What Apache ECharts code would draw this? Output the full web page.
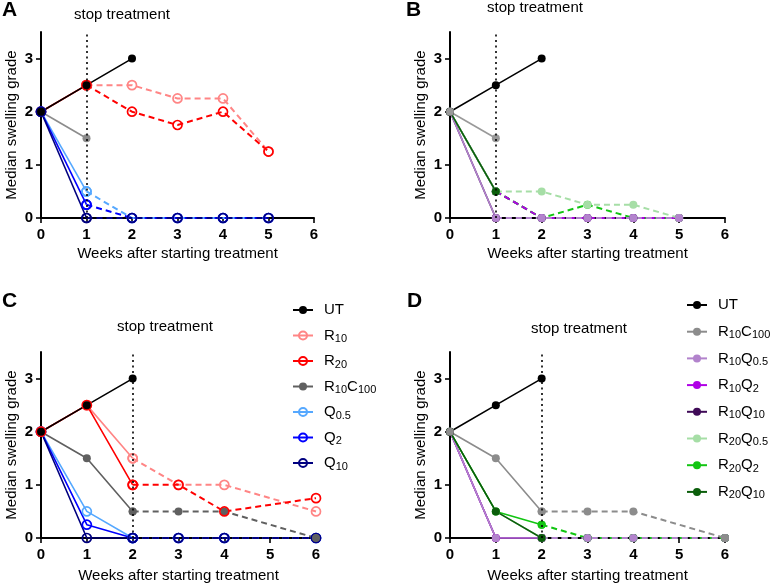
<!DOCTYPE html>
<html>
<head>
<meta charset="utf-8">
<script src="https://cdn.jsdelivr.net/npm/echarts@6/dist/echarts.min.js"></script>
<style>
html, body { margin: 0; padding: 0; background: #fff; }
#main { width: 771px; height: 584px; }
</style>
</head>
<body>
<div id="main"></div>
<script>
// 周数 (x 轴)
var weeks = [0, 1, 2, 3, 4, 5, 6];
var xTicks = [0, 1, 2, 3, 4, 5, 6];
var yTicks = [0, 1, 2, 3];
var stopWeek = [1, 1, 2, 2];

// A: 单药
var aUT = [2, 2.5, 3, null, null, null, null];
var aR10C100 = [2, 1.5, null, null, null, null, null];
var aR10 = [2, 2.5, 2.5, 2.25, 2.25, 1.25, null];
var aR20 = [2, 2.5, 2, 1.75, 2, 1.25, null];
var aQ05 = [2, 0.5, 0, 0, 0, 0, null];
var aQ2 = [2, 0.25, 0, 0, 0, 0, null];
var aQ10 = [2, 0, 0, 0, 0, 0, null];

// B: 联合用药
var bUT = [2, 2.5, 3, null, null, null, null];
var bR10C100 = [2, 1.5, null, null, null, null, null];
var bR10Q05 = [2, 0, 0, 0, 0, 0, null];
var bR10Q2 = [2, 0.5, 0, 0, 0, 0, null];
var bR10Q10 = [2, 0, 0, 0, 0, 0, null];
var bR20Q05 = [2, 0.5, 0.5, 0.25, 0.25, 0, null];
var bR20Q2 = [2, 0.5, 0, 0.25, 0, 0, null];
var bR20Q10 = [2, 0.5, 0, 0, 0, 0, null];

// C: 单药, 2周停药
var cUT = [2, 2.5, 3, null, null, null, null];
var cR10 = [2, 2.5, 1.5, 1, 1, null, 0.5];
var cR20 = [2, 2.5, 1, 1, 0.5, null, 0.75];
var cR10C100 = [2, 1.5, 0.5, 0.5, 0.5, null, 0];
var cQ05 = [2, 0.5, 0, 0, 0, null, 0];
var cQ2 = [2, 0.25, 0, 0, 0, null, 0];
var cQ10 = [2, 0, 0, 0, 0, null, 0];

// D: 联合用药, 2周停药
var dUT = [2, 2.5, 3, null, null, null, null];
var dR10C100 = [2, 1.5, 0.5, 0.5, 0.5, null, 0];
var dR10Q05 = [2, 0, 0, 0, 0, null, 0];
var dR10Q2 = [2, 0, 0, 0, 0, null, 0];
var dR10Q10 = [2, 0, 0, 0, 0, null, 0];
var dR20Q05 = [2, 0.5, 0, 0, 0, null, 0];
var dR20Q2 = [2, 0.5, 0.25, 0, 0, null, 0];
var dR20Q10 = [2, 0.5, 0, 0, 0, null, 0];

var FONT = '"Liberation Sans", Arial, sans-serif';

// 每个面板: 网格位置
var grids = [
    { left: 41, top: 32, width: 273, height: 186 },
    { left: 450, top: 32, width: 275, height: 186 },
    { left: 41, top: 352, width: 275, height: 186 },
    { left: 450, top: 352, width: 275, height: 186 }
];
var xNameGap = [28, 28, 30, 30];

// 每组: [key, values, color, hollow]
var panels = [
    [
        ['R10C100', aR10C100, '#8c8c8c', false],
        ['R10', aR10, '#ff8585', true],
        ['R20', aR20, '#ff0000', true],
        ['Q05', aQ05, '#55a8ff', true],
        ['Q2', aQ2, '#0000ff', true],
        ['Q10', aQ10, '#000080', true],
        ['UT', aUT, '#000000', false]
    ],
    [
        ['R10Q10', bR10Q10, '#3f0a57', false],
        ['R20Q10', bR20Q10, '#0b5e0b', false],
        ['R20Q2', bR20Q2, '#12c512', false],
        ['R10Q2', bR10Q2, '#b000e6', false],
        ['R20Q05', bR20Q05, '#a6dea6', false],
        ['R10Q05', bR10Q05, '#b283cc', false],
        ['UT', bUT, '#000000', false],
        ['R10C100', bR10C100, '#999999', false]
    ],
    [
        ['Q05', cQ05, '#55a8ff', true],
        ['Q2', cQ2, '#0000ff', true],
        ['Q10', cQ10, '#000080', true],
        ['R10C100', cR10C100, '#606060', false],
        ['R10', cR10, '#ff8585', true],
        ['R20', cR20, '#ff0000', true],
        ['UT', cUT, '#000000', false]
    ],
    [
        ['R10Q10', dR10Q10, '#3f0a57', false],
        ['R10Q2', dR10Q2, '#b000e6', false],
        ['R20Q05', dR20Q05, '#a6dea6', false],
        ['R20Q10', dR20Q10, '#0b5e0b', false],
        ['R20Q2', dR20Q2, '#12c512', false],
        ['R10Q05', dR10Q05, '#b283cc', false],
        ['UT', dUT, '#000000', false],
        ['R10C100', dR10C100, '#8c8c8c', false]
    ]
];
// 实线部分绘制顺序 (B, D 与虚线顺序不同)
var solidOrder = [
    null,
    ['R10Q10', 'R10Q2', 'R20Q2', 'R20Q05', 'R10Q05', 'R20Q10', 'UT', 'R10C100'],
    null,
    ['R10Q10', 'R10Q2', 'R20Q05', 'R10Q05', 'R20Q2', 'R20Q10', 'UT', 'R10C100']
];

var legendC = ['UT', 'R10', 'R20', 'R10C100', 'Q05', 'Q2', 'Q10'];
var legendD = ['UT', 'R10C100', 'R10Q05', 'R10Q2', 'R10Q10', 'R20Q05', 'R20Q2', 'R20Q10'];
var prefixes = ['A', 'B', 'C', 'D'];

function pairs(values, from, to) {
    var out = [];
    for (var i = 0; i < values.length; i++) {
        if (values[i] === null) continue;
        if (weeks[i] < from || weeks[i] > to) continue;
        out.push([weeks[i], values[i]]);
    }
    return out;
}

function itemStyleOf(color, hollow) {
    if (hollow) {
        return { color: 'rgba(255,255,255,0)', borderColor: color, borderWidth: 1.7 };
    }
    return { color: color, borderWidth: 0 };
}

function makeLine(p, key, data, color, hollow, dashed) {
    return {
        type: 'line',
        name: prefixes[p] + '_' + key + (dashed ? '_post' : ''),
        xAxisIndex: p,
        yAxisIndex: p,
        data: data,
        connectNulls: true,
        symbol: 'circle',
        symbolSize: hollow ? 9 : 8,
        showSymbol: true,
        lineStyle: { color: color, width: dashed ? 2 : 1.6, type: dashed ? [6, 4] : 'solid' },
        itemStyle: itemStyleOf(color, hollow),
        emphasis: { disabled: true },
        silent: true,
        z: dashed ? 2 : 3
    };
}

var series = [];
panels.forEach(function (groups, p) {
    var stop = stopWeek[p];
    // 停药后的虚线段 (UT 未治疗, 全程实线)
    groups.forEach(function (g) {
        if (g[0] === 'UT') return;
        var d = pairs(g[1], stop, 99);
        if (d.length > 1) series.push(makeLine(p, g[0], d, g[2], g[3], true));
    });
    // 停药前的实线段
    var order = solidOrder[p] || groups.map(function (g) { return g[0]; });
    order.forEach(function (key) {
        var g = groups.filter(function (x) { return x[0] === key; })[0];
        var end = key === 'UT' ? 99 : stop;
        series.push(makeLine(p, g[0], pairs(g[1], -1, end), g[2], g[3], false));
    });
    // 停药的点线
    series.push({
        type: 'line',
        name: prefixes[p] + '_stop',
        xAxisIndex: p,
        yAxisIndex: p,
        data: [],
        silent: true,
        markLine: {
            symbol: ['none', 'none'],
            silent: true,
            label: { show: false },
            lineStyle: { color: '#000', type: [2, 3.5], width: 1.6 },
            data: [{ xAxis: stop }]
        },
        z: 1
    });
});

var labelMap = {
    UT: 'UT', R10: 'R{s|10}', R20: 'R{s|20}', R10C100: 'R{s|10}C{s|100}',
    Q05: 'Q{s|0.5}', Q2: 'Q{s|2}', Q10: 'Q{s|10}',
    R10Q05: 'R{s|10}Q{s|0.5}', R10Q2: 'R{s|10}Q{s|2}', R10Q10: 'R{s|10}Q{s|10}',
    R20Q05: 'R{s|20}Q{s|0.5}', R20Q2: 'R{s|20}Q{s|2}', R20Q10: 'R{s|20}Q{s|10}'
};

function legendOf(prefix, keys, left, top, gap) {
    return {
        orient: 'vertical',
        left: left,
        top: top,
        padding: 0,
        itemWidth: 20,
        itemHeight: 10,
        itemGap: gap,
        selectedMode: false,
        data: keys.map(function (k) { return prefix + '_' + k; }),
        formatter: function (name) {
            return labelMap[name.slice(2)];
        },
        textStyle: {
            fontFamily: FONT,
            fontSize: 15,
            color: '#000',
            lineHeight: 18,
            padding: [0, 0, 0, 6],
            rich: {
                s: { fontFamily: FONT, fontSize: 11, color: '#000', lineHeight: 8, verticalAlign: 'bottom' }
            }
        }
    };
}

var axisText = { fontFamily: FONT, fontSize: 15, fontWeight: 'bold', color: '#000' };

var option = {
    animation: false,
    backgroundColor: '#fff',
    grid: grids,
    xAxis: grids.map(function (g, i) {
        return {
            type: 'value',
            gridIndex: i,
            min: 0,
            max: 6,
            interval: 1,
            name: 'Weeks after starting treatment',
            nameLocation: 'middle',
            nameGap: xNameGap[i],
            nameTextStyle: { fontFamily: FONT, fontSize: 15, color: '#000' },
            axisLine: { show: true, onZero: false, lineStyle: { color: '#000', width: 2 } },
            axisTick: { show: true, length: 5, lineStyle: { color: '#000', width: 1.6 } },
            axisLabel: Object.assign({ margin: 9, customValues: xTicks }, axisText),
            splitLine: { show: false }
        };
    }),
    yAxis: grids.map(function (g, i) {
        return {
            type: 'value',
            gridIndex: i,
            min: 0,
            max: 3.5,
            interval: 0.5,
            name: 'Median swelling grade',
            nameLocation: 'middle',
            nameGap: 22,
            nameTextStyle: { fontFamily: FONT, fontSize: 15, color: '#000' },
            axisLine: { show: true, onZero: false, lineStyle: { color: '#000', width: 2 } },
            axisTick: { show: true, length: 5, customValues: yTicks, lineStyle: { color: '#000', width: 1.6 } },
            axisLabel: Object.assign({ margin: 8, customValues: yTicks }, axisText),
            splitLine: { show: false }
        };
    }),
    legend: [
        legendOf('C', legendC, 292, 301, 7.5),
        legendOf('D', legendD, 686, 296, 8.7)
    ],
    graphic: [
        { type: 'text', left: 2, top: 0, style: { text: 'A', font: 'bold 21px ' + FONT, fill: '#000' } },
        { type: 'text', left: 406, top: 0, style: { text: 'B', font: 'bold 21px ' + FONT, fill: '#000' } },
        { type: 'text', left: 2, top: 291, style: { text: 'C', font: 'bold 21px ' + FONT, fill: '#000' } },
        { type: 'text', left: 407, top: 291, style: { text: 'D', font: 'bold 21px ' + FONT, fill: '#000' } },
        { type: 'text', x: 122, y: 15, style: { text: 'stop treatment', font: '15px ' + FONT, fill: '#000', textAlign: 'center', textVerticalAlign: 'middle' } },
        { type: 'text', x: 535, y: 8, style: { text: 'stop treatment', font: '15px ' + FONT, fill: '#000', textAlign: 'center', textVerticalAlign: 'middle' } },
        { type: 'text', x: 165, y: 327, style: { text: 'stop treatment', font: '15px ' + FONT, fill: '#000', textAlign: 'center', textVerticalAlign: 'middle' } },
        { type: 'text', x: 579, y: 329, style: { text: 'stop treatment', font: '15px ' + FONT, fill: '#000', textAlign: 'center', textVerticalAlign: 'middle' } }
    ],
    series: series
};

var chart = echarts.init(document.getElementById('main'));
chart.setOption(option);
</script>
</body>
</html>
